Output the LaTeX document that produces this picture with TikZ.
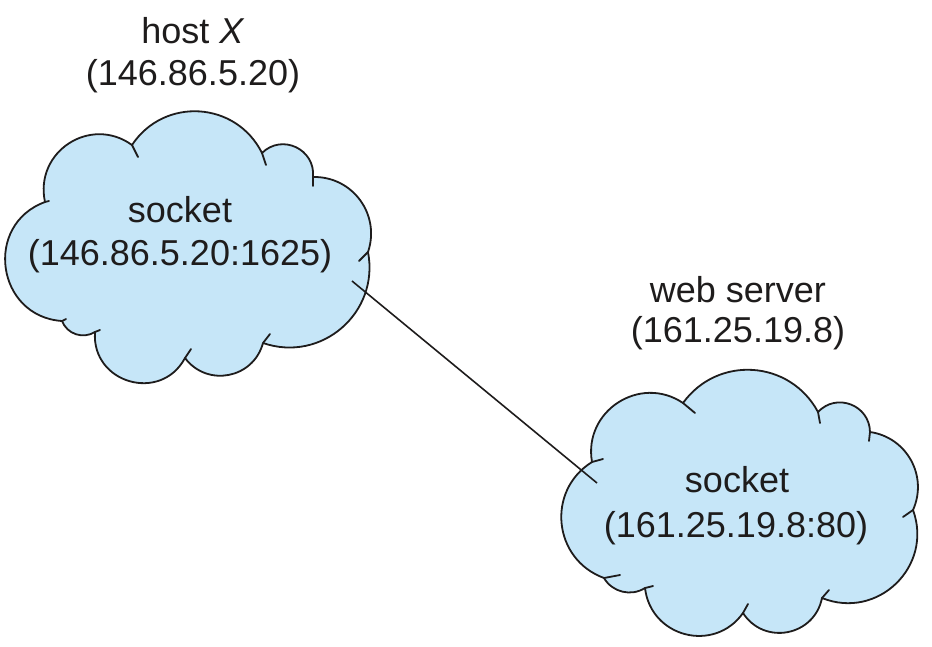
\documentclass[tikz,border=0pt]{standalone}
\usepackage{fontspec}
\setmainfont{Liberation Sans}
\definecolor{cloudblue}{RGB}{198,230,248}
\definecolor{ink}{RGB}{30,28,28}
\begin{document}
\begin{tikzpicture}[x=1pt,y=-1pt,
  cloudshape/.style={fill=cloudblue,draw=ink,line width=1.8pt,line join=round},
  tail/.style={draw=ink,line width=1.8pt,line cap=round},
  label/.style={anchor=base,inner sep=0pt,text=ink,font=\fontsize{36}{42}\selectfont},
  link/.style={draw=ink,line width=1.6pt}]
\useasboundingbox (0,0) rectangle (932,646);

% ---- cloud 1 (host X) junctions
\coordinate (a1) at (132,145);
\coordinate (e1) at (262,153);
\coordinate (f1) at (313,177);
\coordinate (g1) at (368,252);
\coordinate (i1) at (263,343);
\coordinate (d1) at (185,358);
\coordinate (cc1) at (95,332);
\coordinate (c1) at (62,321);
\coordinate (b1) at (45,202);
\filldraw[cloudshape] (a1)
  to[bend left=60,looseness=1.14] (e1)
  to[bend left=70,looseness=1.27] (f1)
  to[bend left=55,looseness=1.09] (g1)
  to[bend left=60,looseness=1.14] (i1)
  to[bend left=64,looseness=1.19] (d1)
  to[bend left=78,looseness=1.40] (cc1)
  to[bend left=50,looseness=1.04] (c1)
  to[bend left=78,looseness=1.40] (b1)
  to[bend left=69,looseness=1.26] (a1) -- cycle;
\draw[tail] (a1) -- (138,157);
\draw[tail] (e1) -- (266,165);
\draw[tail] (f1) -- (313,186);
\draw[tail] (g1) -- (359,261);
\draw[tail] (i1) -- (270,334);
\draw[tail] (d1) -- (191,349);
\draw[tail] (cc1) -- (100,330);
\draw[tail] (c1) -- (66,319);
\draw[tail] (b1) -- (49,201);

% ---- cloud 2 (web server) junctions
\coordinate (p1) at (683,403);
\coordinate (q2) at (818,412);
\coordinate (q3) at (870,432);
\coordinate (q4) at (913,510);
\coordinate (q5) at (822,598);
\coordinate (q6) at (743,613);
\coordinate (p8) at (645,588);
\coordinate (p9) at (604,578);
\coordinate (p0) at (592,462);
\filldraw[cloudshape] (p1)
  to[bend left=58,looseness=1.12] (q2)
  to[bend left=68,looseness=1.24] (q3)
  to[bend left=53,looseness=1.07] (q4)
  to[bend left=66,looseness=1.21] (q5)
  to[bend left=68,looseness=1.24] (q6)
  to[bend left=69,looseness=1.26] (p8)
  to[bend left=46,looseness=1.00] (p9)
  to[bend left=64,looseness=1.19] (p0)
  to[bend left=67,looseness=1.22] (p1) -- cycle;
\draw[tail] (p1) -- (695,413);
\draw[tail] (q2) -- (820,423);
\draw[tail] (q3) -- (869,441);
\draw[tail] (q4) -- (903,517);
\draw[tail] (q5) -- (829,590);
\draw[tail] (q6) -- (748,604);
\draw[tail] (p8) -- (653,586);
\draw[tail] (p9) -- (620,575);
\draw[tail] (p0) -- (603,459);

% ---- connector
\coordinate (s1) at (352,281);
\coordinate (s2) at (597,483);
\draw[link] (s1) -- (s2);

% ---- labels
\node[label] (hostname) at (193,43) {host \textit{X}};
\node[label] (hostip) at (193,85) {(146.86.5.20)};
\node[label] (sock1) at (180,222) {socket};
\node[label] (sock1addr) at (180,265) {(146.86.5.20:1625)};
\node[label] (webname) at (738,302) {web server};
\node[label] (webip) at (738,342) {(161.25.19.8)};
\node[label] (sock2) at (737,492) {socket};
\node[label] (sock2addr) at (736,537) {(161.25.19.8:80)};
\end{tikzpicture}
\end{document}
